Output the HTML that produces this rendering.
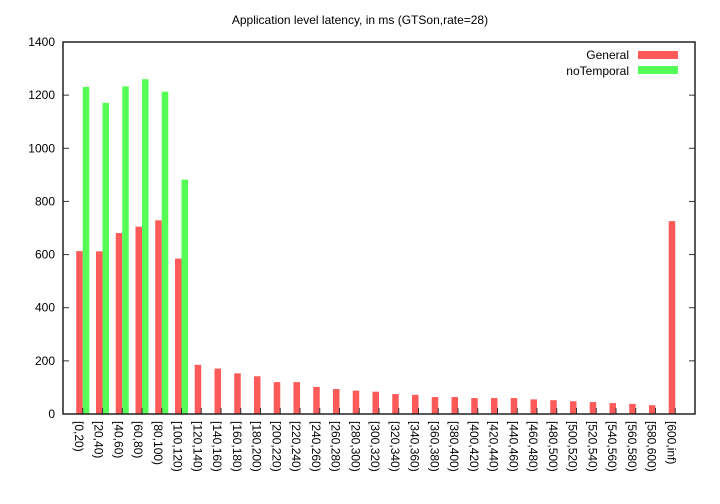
<!DOCTYPE html>
<html><head><meta charset="utf-8"><style>
html,body{margin:0;padding:0;background:#fff;}
svg{display:block;font-family:"Liberation Sans",sans-serif;}
</style></head><body>
<svg id="chart" width="720" height="504">
<text x="360" y="24" text-anchor="middle" font-size="12">Application level latency, in ms (GTSon,rate=28)</text>
<g id="bars"></g>
<g id="axes"></g>
<g>
<text x="629" y="59" text-anchor="end" font-size="12">General</text>
<rect x="638" y="51" width="40" height="8" fill="#ff5a5a"/>
<text x="629" y="75" text-anchor="end" font-size="12">noTemporal</text>
<rect x="638" y="66" width="40" height="8" fill="#55ff55"/>
</g>
</svg>
<script>
const categories = ["[0,20)","[20,40)","[40,60)","[60,80)","[80,100)","[100,120)","[120,140)","[140,160)","[160,180)","[180,200)","[200,220)","[220,240)","[240,260)","[260,280)","[280,300)","[300,320)","[320,340)","[340,360)","[360,380)","[380,400)","[400,420)","[420,440)","[440,460)","[460,480)","[480,500)","[500,520)","[520,540)","[540,560)","[560,580)","[580,600)","[600,inf)"];
const generalValues = [613,612,681,705,729,585,185,171,153,142,120,120,102,94,88,84,75,72,64,64,60,60,60,55,52,48,45,41,38,33,726];
const noTemporalValues = [1231,1171,1233,1260,1213,882,0,0,0,0,0,0,0,0,0,0,0,0,0,0,0,0,0,0,0,0,0,0,0,0,0];
const yTicks = [0,200,400,600,800,1000,1200,1400];

const NS="http://www.w3.org/2000/svg";
const L=63,R=695,T=42,B=414;
const xMin=-1,xMax=31,yMax=1400;
const xs=i=>L+(i-xMin)/(xMax-xMin)*(R-L);
const ys=v=>B-v/yMax*(B-T);
const bw=0.33*(R-L)/(xMax-xMin);
function mk(tag,attrs,parent){const e=document.createElementNS(NS,tag);for(const k in attrs)e.setAttribute(k,attrs[k]);parent.appendChild(e);return e;}
const bars=document.getElementById('bars'),axes=document.getElementById('axes');
categories.forEach((c,i)=>{
  const cx=xs(i);
  const g=generalValues[i];
  const r=mk('rect',{x:cx-bw,y:ys(g),width:bw,height:B-ys(g),fill:'#ff5a5a'},bars);
  
  
  const n=noTemporalValues[i];
  if(n>0){
    const r2=mk('rect',{x:cx,y:ys(n),width:bw,height:B-ys(n),fill:'#55ff55'},bars);
    
    
  }
  const tk=mk('line',{x1:cx,x2:cx,y1:B,y2:B-6,stroke:'#333','stroke-width':1},axes);
  
  
  const t=mk('text',{transform:`translate(${cx-4},421) rotate(90)`,'font-size':12,'dominant-baseline':'central'},axes);
  t.textContent=c;
  
  
});
yTicks.forEach(v=>{
  const y=ys(v);
  const a=mk('line',{x1:L,x2:L+6,y1:y,y2:y,stroke:'#333'},axes);
  
  
  const b=mk('line',{x1:R,x2:R-6,y1:y,y2:y,stroke:'#333'},axes);
  
  
  const t=mk('text',{x:55,y:y+4,'text-anchor':'end','font-size':12},axes);
  t.textContent=v;
  
  
});
const frame=mk('rect',{x:L,y:T,width:R-L,height:B-T,fill:'none',stroke:'#222','stroke-width':1.5},axes);


</script>
</body></html>
